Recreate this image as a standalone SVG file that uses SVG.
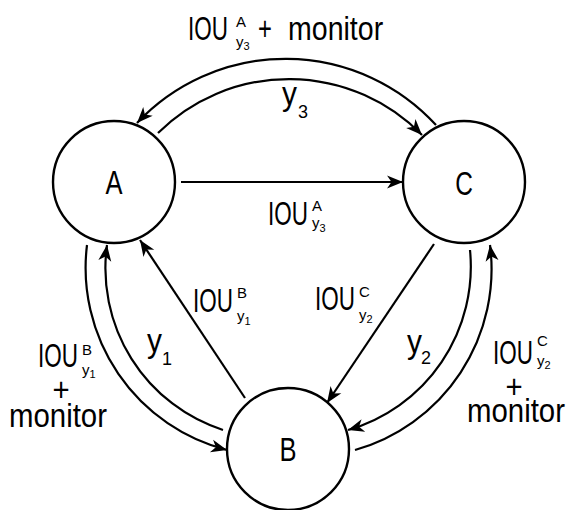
<svg xmlns="http://www.w3.org/2000/svg" width="569" height="510" viewBox="0 0 569 510">
<style>
text{font-family:"Liberation Sans Narrow","Liberation Sans",Arial,sans-serif;fill:#000}
.m{font-size:34px}
.s{font-size:15px}
.ss{font-size:11px}
.sy{font-size:18px}
.node circle{fill:#fff;stroke:#000;stroke-width:2.4}
.c path,.c line{fill:none;stroke:#000;stroke-width:2.2}
</style>
<defs>
<marker id="arr" viewBox="-17 -8 18 16" refX="0" refY="0" markerWidth="18" markerHeight="16" markerUnits="userSpaceOnUse" orient="auto">
<path d="M0,0 L-16,-6.5 L-11.5,0 L-16,6.5 Z" fill="#000"/>
</marker>
</defs>
<g id="A" class="node"><circle cx="114" cy="182" r="61"/><text class="m" transform="translate(114,194) scale(0.75,1)" text-anchor="middle">A</text></g>
<g id="C" class="node"><circle cx="464" cy="182" r="61"/><text class="m" transform="translate(464,195) scale(0.72,1)" text-anchor="middle">C</text></g>
<g id="B" class="node"><circle cx="288" cy="449" r="61"/><text class="m" transform="translate(288,461) scale(0.75,1)" text-anchor="middle">B</text></g>
<g id="connectors" class="c">
<line x1="181" y1="182" x2="403" y2="182" marker-end="url(#arr)"/>
<path d="M436,125 A204,204 0 0 0 137,123" marker-end="url(#arr)"/>
<path d="M158,133 A186,186 0 0 1 422,135" marker-end="url(#arr)"/>
<path d="M87,245 A188,188 0 0 0 227,450" marker-end="url(#arr)"/>
<path d="M223,430 A170,170 0 0 1 107,245" marker-end="url(#arr)"/>
<path d="M470,250 A170,170 0 0 1 348,430" marker-end="url(#arr)"/>
<path d="M355,450 A188,188 0 0 0 490,245" marker-end="url(#arr)"/>
<line x1="245" y1="398" x2="140" y2="240" marker-end="url(#arr)"/>
<line x1="434" y1="244" x2="327" y2="403" marker-end="url(#arr)"/>
</g>
<g id="labels">
<text class="m" transform="translate(188,40) scale(0.66,1)">IOU</text>
<text class="s" x="236" y="27">A</text>
<text class="s" x="236" y="47">y<tspan class="ss" dy="3">3</tspan></text>
<text class="m" transform="translate(258,40) scale(0.7,1)">+</text>
<text class="m" transform="translate(288,40) scale(0.84,1)">monitor</text>

<text class="m" transform="translate(282,105) scale(0.88,1)">y</text><text class="sy" x="298" y="118">3</text>

<text class="m" transform="translate(268,225) scale(0.66,1)">IOU</text>
<text class="s" x="312" y="211">A</text>
<text class="s" x="312" y="228">y<tspan class="ss" dy="4">3</tspan></text>

<text class="m" transform="translate(193,312) scale(0.66,1)">IOU</text>
<text class="s" x="237" y="298">B</text>
<text class="s" x="237" y="321">y<tspan class="ss" dy="4">1</tspan></text>

<text class="m" transform="translate(315,310) scale(0.66,1)">IOU</text>
<text class="s" x="359" y="297">C</text>
<text class="s" x="359" y="320">y<tspan class="ss" dy="3">2</tspan></text>

<text class="m" transform="translate(147,352) scale(0.88,1)">y</text><text class="sy" x="162" y="365">1</text>
<text class="m" transform="translate(407,353) scale(0.88,1)">y</text><text class="sy" x="421" y="364">2</text>

<text class="m" transform="translate(38,367) scale(0.66,1)">IOU</text>
<text class="s" x="82" y="355">B</text>
<text class="s" x="82" y="375">y<tspan class="ss" dy="3">1</tspan></text>
<text class="m" transform="translate(58,427) scale(0.864,1)" text-anchor="middle"><tspan x="3.5" y="-26">+</tspan><tspan x="0" y="0">monitor</tspan></text>

<text class="m" transform="translate(493,364) scale(0.66,1)">IOU</text>
<text class="s" x="537" y="346">C</text>
<text class="s" x="537" y="366">y<tspan class="ss" dy="3">2</tspan></text>
<text class="m" transform="translate(516,422) scale(0.864,1)" text-anchor="middle"><tspan x="-2.3" y="-24">+</tspan><tspan x="0" y="0">monitor</tspan></text>
</g>
</svg>
